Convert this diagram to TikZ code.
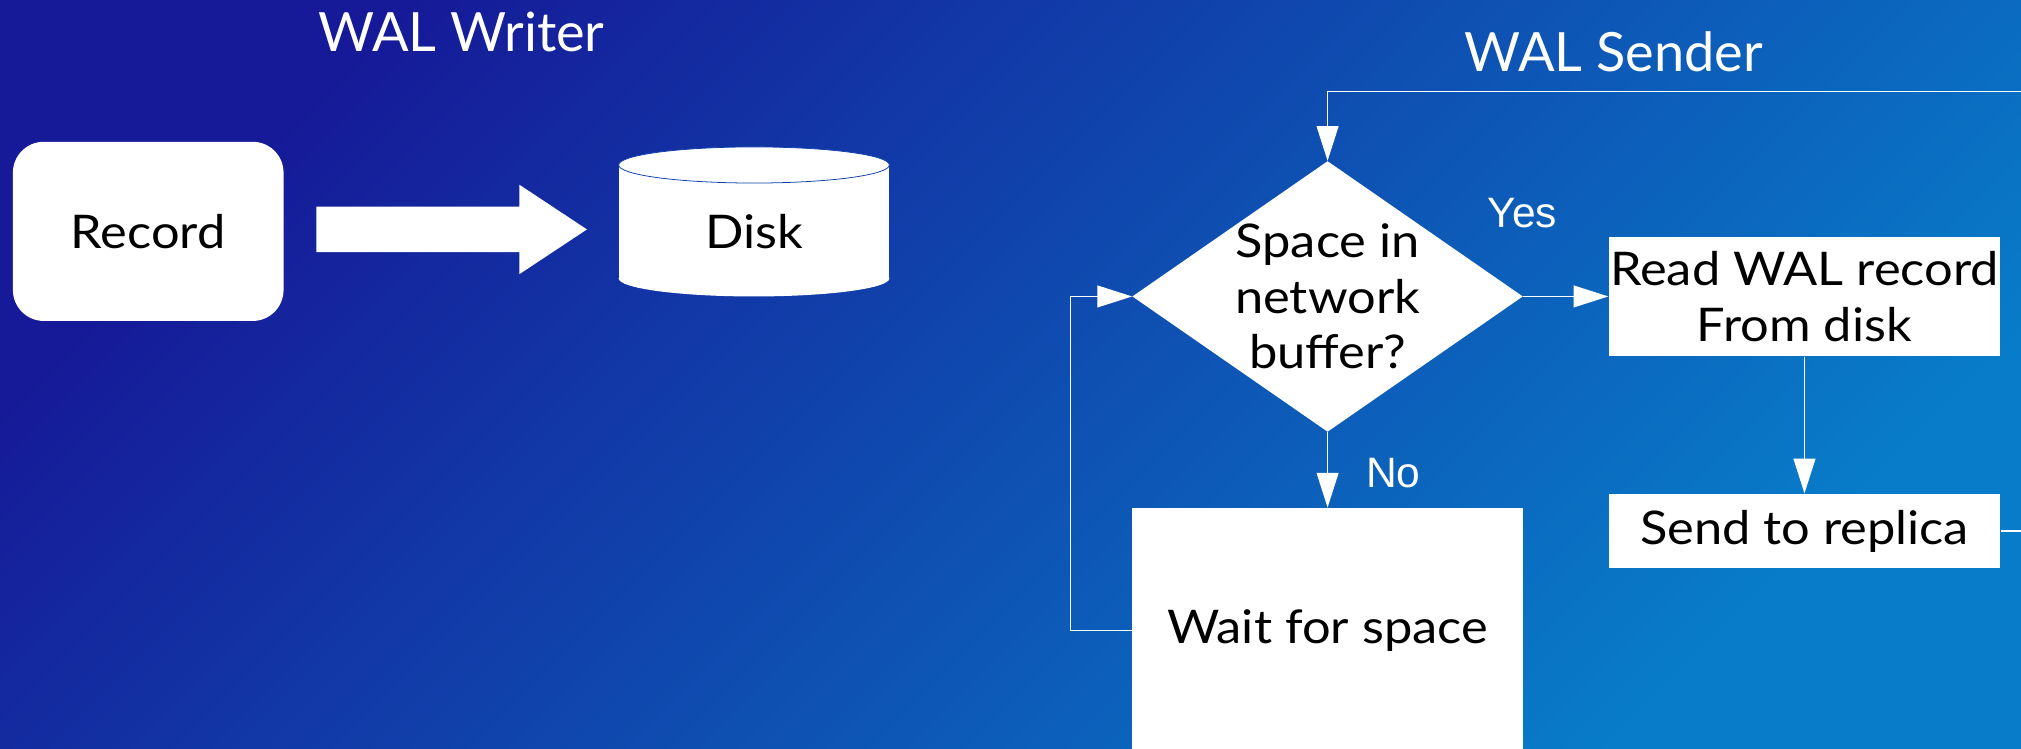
\documentclass[tikz,border=0pt]{standalone}
\usepackage{fontspec}
\setmainfont{Lato}
\newfontfamily\boxfont[FakeStretch=1.09]{Lato}
\newfontfamily\yesnofont{Liberation Sans}
\usetikzlibrary{arrows.meta, shapes.geometric, shapes.arrows, positioning}
\definecolor{bgdark}{RGB}{22,26,152}
\definecolor{bglight}{RGB}{8,124,200}

\begin{document}
\begin{tikzpicture}
      [x=1pt,y=-1pt
      ,box/.style={rectangle,fill=white,draw=none,inner sep=0,text=black,align=center
                  ,font=\boxfont\fontsize{36}{43}\selectfont}
      ,ttl/.style={text=white,font=\fontsize{42}{50}\selectfont}
      ,ans/.style={text=white,font=\yesnofont\fontsize{33}{40}\selectfont}
      ,lin/.style={draw=white,line width=1pt}
      ,arr/.style={lin,-{Triangle[length=27pt,width=17pt]}}]
        \useasboundingbox (0,0) rectangle (1568,581);
        \clip (0,0) rectangle (1568,581);
        \shade[top color=bgdark,bottom color=bglight,shading angle=45] (0,0) rectangle (1568,581);
        % WAL writer side
        \node[ttl] (wrtitle) at (358,25) {WAL Writer};
        \node[box,rounded corners=24pt,minimum width=210pt,minimum height=139pt] (record) at (115,179.5) {Record};
        \node[single arrow,fill=white,inner sep=17.5pt,minimum height=210pt
             ,single arrow head extend=17pt,single arrow tip angle=67] (wrarrow) at (337,178) {};
        \fill[white] (480,128) rectangle (690,216);
        \fill[white] (585,216) ellipse [x radius=105pt,y radius=14pt];
        \filldraw[fill=white,draw=bgdark!60!bglight,line width=.6pt] (585,128) ellipse [x radius=105pt,y radius=14pt];
        \node[box,fill=none] (disk) at (585,180) {Disk};
        % WAL sender side
        \node[ttl] (sdtitle) at (1252,40) {WAL Sender};
        \node[diamond,fill=white,inner sep=0,minimum width=303pt,minimum height=210pt] (cond) at (1030,230) {};
        \node[box,fill=none] (condtxt) at (cond) {Space in\\network\\buffer?};
        \node[box,minimum width=304pt,minimum height=93pt] (read) at (1400,230) {Read WAL record\\From disk};
        \node[box,minimum width=304pt,minimum height=58pt] (send) at (1400,412) {Send to replica};
        \node[box,minimum width=303pt,minimum height=190pt] (wait) at (1030,489) {Wait for space};
        \node[ans] (yes) at (1181,165) {Yes};
        \node[ans] (no) at (1081,367) {No};
        \coordinate (back) at (1611,71);
        \draw[arr] (cond.east) -- (read.west);
        \draw[arr] (cond.south) -- (wait.north);
        \draw[arr] (read.south) -- (send.north);
        \draw[arr] (wait.west) -- ++(-48,0) |- (cond.west);
        \draw[arr] (send.east) -| (back) -| (cond.north);
      \end{tikzpicture}
\end{document}
